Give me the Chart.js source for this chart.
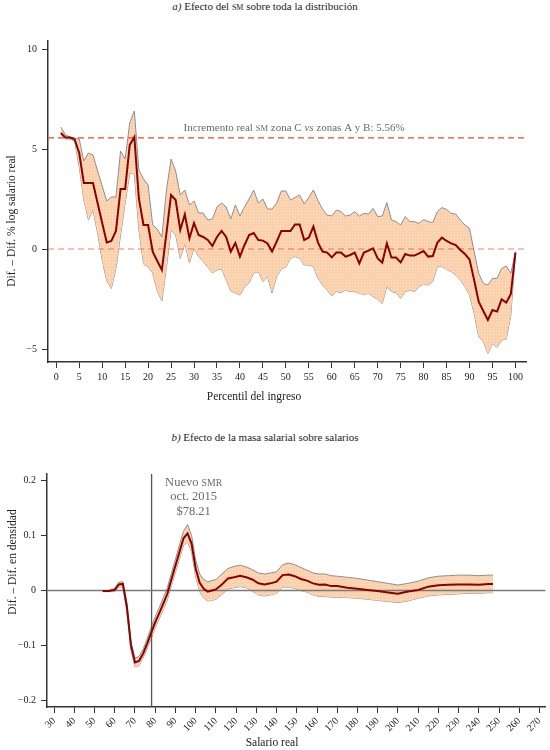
<!DOCTYPE html>
<html lang="es">
<head>
<meta charset="utf-8">
<title>Efecto del SM</title>
<script src="https://cdn.jsdelivr.net/npm/chart.js@4.4.1/dist/chart.umd.min.js"></script>
<style>
  body { margin: 0; background: #fff; width: 550px; height: 750px; position: relative; overflow: hidden; }
  .titulo { position: absolute; left: 0; width: 530px; text-align: center; font: 11px "Liberation Serif", serif; color: #222; line-height: 13px; }
  .sc { font-variant: small-caps; }
  canvas { position: absolute; left: 0; }
</style>
</head>
<body>
<div class="titulo" style="top:0px"><i>a)</i> Efecto del <span class="sc">sm</span> sobre toda la distribución</div>
<canvas id="graficoA" width="550" height="415" style="top:0px"></canvas>
<div class="titulo" style="top:431px"><i>b)</i> Efecto de la masa salarial sobre salarios</div>
<canvas id="graficoB" width="550" height="305" style="top:445px"></canvas>
<script>
// ---- Panel a) percentiles 1..100 ----
const percentiles = Array.from({ length: 100 }, (_, i) => i + 1);
const ticksPercentil = [0, 5, 10, 15, 20, 25, 30, 35, 40, 45, 50, 55, 60, 65, 70, 75, 80, 85, 90, 95, 100];
const ticksDifA = [-5, 0, 5, 10];
const incrementoReal = 5.56;

const difEstimada = [
  5.8, 5.57, 5.57, 5.48, 4.8, 3.3, 3.3, 3.3, 2.3, 1.3,
  0.33, 0.4, 0.9, 3.0, 3.0, 5.2, 5.6, 2.5, 1.2, 1.2,
  -0.13, -0.6, -1.05, 0.8, 2.7, 2.45, 0.95, 1.73, 0.53, 1.3,
  0.7, 0.6, 0.45, 0.15, 0.6, 0.9, 0.6, -0.13, 0.3, -0.38,
  0.2, 0.7, 0.8, 0.45, 0.42, 0.28, -0.13, 0.37, 0.9, 0.9,
  0.9, 1.23, 1.23, 0.45, 0.57, 1.12, 0.32, -0.13, -0.18, -0.42,
  -0.18, -0.18, -0.38, -0.3, -0.18, -0.72, -0.18, -0.08, 0.03, -0.47,
  -0.68, 0.28, -0.43, -0.43, -0.67, -0.25, -0.33, -0.33, -0.22, -0.1,
  -0.38, -0.35, 0.32, 0.57, 0.4, 0.28, 0.2, -0.05, -0.25, -0.52,
  -1.55, -2.63, -3.1, -3.55, -3.05, -3.13, -2.52, -2.68, -2.25, -0.18
];
const difSuperior = [
  6.1, 5.7, 5.6, 5.55, 5.5, 4.4, 4.8, 4.7, 3.9, 3.15,
  2.4, 2.6, 2.6, 4.9, 4.5, 6.3, 6.9, 3.95, 3.5, 3.2,
  1.2, 1.0, 0.6, 2.95, 4.5, 3.9, 2.7, 2.95, 2.2, 2.4,
  1.8, 1.8, 1.45, 1.5, 2.1, 2.3, 2.1, 1.5, 2.2, 1.65,
  2.1, 2.5, 2.95, 2.3, 2.5, 2.0, 2.0, 2.3, 2.9, 2.9,
  2.45, 2.58, 2.7, 2.25, 2.58, 2.95, 2.42, 1.98, 1.7, 1.65,
  1.95, 1.87, 1.65, 1.7, 1.87, 1.65, 1.78, 1.75, 2.03, 1.62,
  1.65, 2.32, 1.45, 1.37, 1.2, 1.62, 1.37, 1.37, 1.28, 1.48,
  1.37, 1.32, 1.87, 2.07, 1.98, 1.78, 1.75, 1.45, 1.2, 1.03,
  -0.13, -1.22, -1.72, -1.8, -1.47, -1.47, -0.97, -0.85, -1.22, -0.13
];
const difInferior = [
  5.7, 5.5, 5.5, 5.4, 4.1, 2.45, 1.45, 1.95, 0.8, -0.55,
  -1.6, -1.97, -0.97, 0.7, 2.3, 3.8, 3.75, 0.95, -0.75, -0.9,
  -1.2, -2.1, -2.6, -0.9, 0.95, 0.7, -0.47, 0.28, -0.68, 0.03,
  -0.38, -0.63, -0.9, -1.2, -1.05, -1.0, -1.55, -2.1, -2.2, -2.3,
  -1.9, -1.7, -1.2, -1.13, -1.63, -1.38, -2.2, -1.38, -1.0, -0.9,
  -0.47, -0.38, -0.47, -0.8, -0.8, -0.88, -1.47, -1.8, -2.05, -2.35,
  -2.13, -2.18, -2.05, -2.13, -2.13, -2.22, -2.27, -2.22, -2.38, -2.52,
  -2.72, -1.88, -2.13, -2.18, -2.47, -2.13, -2.05, -2.13, -1.88, -1.75,
  -1.8, -1.63, -0.88, -0.88, -1.02, -1.13, -1.3, -1.55, -1.88, -2.3,
  -3.22, -4.38, -4.63, -5.22, -4.72, -4.92, -4.55, -4.52, -3.3, -0.18
];

// ---- Panel b) salario real ----
const salarioReal = [
  54, 57, 60, 62, 64, 66, 68, 70, 72, 74, 76, 78, 80, 82, 84, 86, 88, 90, 92, 94,
  96, 98, 100, 102, 104, 106, 108, 110, 113, 116, 119, 122, 125, 128, 131, 134, 137, 140, 143, 146,
  149, 152, 155, 158, 161, 164, 167, 170, 175, 180, 185, 190, 195, 200, 205, 210, 215, 220, 225, 230,
  235, 240, 245, 247
];
const densidadEstimada = [
  -0.001, -0.001, 0.001, 0.011, 0.012, -0.03, -0.1, -0.131, -0.128, -0.115, -0.097, -0.077, -0.058, -0.041, -0.024, -0.006, 0.02, 0.045, 0.07, 0.095,
  0.104, 0.085, 0.04, 0.014, 0.003, -0.002, 0.0, 0.002, 0.011, 0.022, 0.024, 0.027, 0.024, 0.02, 0.013, 0.011, 0.013, 0.016, 0.028, 0.029,
  0.026, 0.021, 0.018, 0.013, 0.0105, 0.011, 0.008, 0.008, 0.005, 0.003, 0.001, -0.001, -0.0035, -0.006, -0.002, 0.001, 0.007, 0.0095, 0.0105, 0.011,
  0.011, 0.0105, 0.012, 0.012
];
const densidadSuperior = [
  0.0, 0.0, 0.004, 0.015, 0.016, -0.022, -0.092, -0.123, -0.12, -0.107, -0.088, -0.067, -0.048, -0.031, -0.013, 0.005, 0.031, 0.057, 0.083, 0.108,
  0.12, 0.1, 0.055, 0.03, 0.02, 0.016, 0.018, 0.02, 0.03, 0.04, 0.044, 0.046, 0.043, 0.038, 0.032, 0.03, 0.032, 0.034, 0.047, 0.05,
  0.047, 0.042, 0.037, 0.032, 0.03, 0.03, 0.027, 0.026, 0.024, 0.022, 0.019, 0.016, 0.013, 0.01, 0.013, 0.017, 0.023, 0.026, 0.027, 0.028,
  0.028, 0.027, 0.028, 0.028
];
const densidadInferior = [
  -0.002, -0.002, -0.002, 0.006, 0.007, -0.038, -0.108, -0.139, -0.137, -0.123, -0.106, -0.087, -0.068, -0.051, -0.035, -0.017, 0.009, 0.033, 0.057, 0.082,
  0.088, 0.07, 0.025, -0.002, -0.014, -0.019, -0.018, -0.016, -0.007, 0.003, 0.005, 0.007, 0.005, -0.001, -0.008, -0.01, -0.008, -0.005, 0.006, 0.006,
  0.004, 0.0, -0.003, -0.008, -0.011, -0.011, -0.012, -0.012, -0.013, -0.014, -0.016, -0.018, -0.02, -0.022, -0.019, -0.014, -0.01, -0.008, -0.007, -0.006,
  -0.005, -0.005, -0.004, -0.004
];
const ticksSalario = [30, 40, 50, 60, 70, 80, 90, 100, 110, 120, 130, 140, 150, 160, 170, 180, 190, 200, 210, 220, 230, 240, 250, 260, 270];
const ticksDifB = [-0.2, -0.1, 0, 0.1, 0.2];
const nuevoSmr = 78.21;

// estilos comunes
const FUENTE = '"Liberation Serif", "Times New Roman", serif';
const ROJO_OSCURO = '#8b0000';
const GRIS_BANDA = '#8e8e8e';
const EJE = '#333';

// textura punteada de la banda de confianza
function texturaBanda() {
  const c = document.createElement('canvas');
  c.width = 3; c.height = 3;
  const g = c.getContext('2d');
  g.fillStyle = '#fcd0ab';
  g.fillRect(0, 0, 3, 3);
  g.fillStyle = '#fee7d4';
  g.fillRect(1, 1, 1, 1);
  return g.createPattern(c, 'repeat');
}

const aPuntos = (xs, ys) => xs.map((x, i) => ({ x: x, y: ys[i] }));
const conMenos = v => String(v).replace('-', '\u2212');

// Plugin para dibujar textos con tramos de distinto estilo (versalitas, cursiva)
const rotulosPlugin = {
  id: 'rotulos',
  afterDraw(chart, args, opts) {
    const ctx = chart.ctx;
    (opts.items || []).forEach(item => {
      const [x, y] = item.pos(chart);
      const tam = item.tam || 11;
      ctx.save();
      ctx.translate(x, y);
      if (item.rot) ctx.rotate(item.rot);
      ctx.fillStyle = item.color || '#222';
      ctx.textBaseline = 'middle';
      ctx.textAlign = 'left';
      const fuentes = item.partes.map(p => {
        const t = p.sc ? tam * 0.78 : tam;
        return (p.it ? 'italic ' : '') + t + 'px ' + FUENTE;
      });
      let total = 0;
      const anchos = item.partes.map((p, i) => {
        ctx.font = fuentes[i];
        const w = ctx.measureText(p.t).width;
        total += w;
        return w;
      });
      let cx = -total / 2;
      item.partes.forEach((p, i) => {
        ctx.font = fuentes[i];
        ctx.fillText(p.t, cx, p.sc ? 0.8 : 0);
        cx += anchos[i];
      });
      ctx.restore();
    });
  }
};

function ejeBase(extra) {
  return Object.assign({
    type: 'linear',
    border: { display: true, color: EJE, width: 1.5 },
    grid: { display: true, drawOnChartArea: false, drawTicks: true, tickLength: 6, color: EJE, tickWidth: 1 },
  }, extra);
}

// ---------------- Gráfico a) ----------------
function crearGraficoA() {
  const ctx = document.getElementById('graficoA').getContext('2d');
  const xMin = -1.8, xMax = 102.3;
  return new Chart(ctx, {
    type: 'line',
    data: {
      datasets: [
        { data: aPuntos(percentiles, difEstimada), borderColor: ROJO_OSCURO, borderWidth: 2, fill: false },
        { data: [{ x: xMin, y: incrementoReal }, { x: xMax, y: incrementoReal }], borderColor: '#ec4a2a', borderWidth: 1.2, borderDash: [6, 4], fill: false },
        { data: [{ x: xMin, y: 0 }, { x: xMax, y: 0 }], borderColor: 'rgba(232,88,70,0.75)', borderWidth: 1.2, borderDash: [6, 4], fill: false },
        { data: aPuntos(percentiles, difSuperior), borderColor: GRIS_BANDA, borderWidth: 1, fill: '+1', backgroundColor: texturaBanda() },
        { data: aPuntos(percentiles, difInferior), borderColor: GRIS_BANDA, borderWidth: 1, fill: false }
      ]
    },
    options: {
      responsive: false,
      animation: false,
      layout: { padding: { left: 0, top: 41, right: 24, bottom: 0 } },
      elements: { point: { radius: 0 }, line: { tension: 0 } },
      plugins: {
        legend: { display: false },
        tooltip: { enabled: false },
        rotulos: {
          items: [
            { pos: c => [12, 221], rot: -Math.PI / 2, tam: 11.5, partes: [{ t: 'Dif. \u2013 Dif. % log salario real' }] },
            { pos: c => [254, 397], tam: 11.5, partes: [{ t: 'Percentil del ingreso' }] },
            {
              pos: c => [c.scales.x.getPixelForValue(51.8), c.scales.y.getPixelForValue(incrementoReal) - 10],
              tam: 11, color: '#6a6a6a',
              partes: [{ t: 'Incremento real ' }, { t: 'SM', sc: true }, { t: ' zona C ' }, { t: 'vs', it: true }, { t: ' zonas A y B: 5.56%' }]
            }
          ]
        }
      },
      scales: {
        x: ejeBase({
          min: xMin, max: xMax,
          afterBuildTicks: s => { s.ticks = ticksPercentil.map(v => ({ value: v })); },
          afterFit: s => { s.height = 53; },
          ticks: { autoSkip: false, maxRotation: 0, padding: 3, color: '#222', font: { family: FUENTE, size: 10 } }
        }),
        y: ejeBase({
          min: -5.65, max: 10.4,
          afterBuildTicks: s => { s.ticks = ticksDifA.map(v => ({ value: v })); },
          afterFit: s => { s.width = 48; },
          ticks: { padding: 5, color: '#222', font: { family: FUENTE, size: 10 }, callback: conMenos }
        })
      }
    },
    plugins: [rotulosPlugin]
  });
}

// ---------------- Gráfico b) ----------------
function crearGraficoB() {
  const ctx = document.getElementById('graficoB').getContext('2d');
  const xMin = 26.5, xMax = 273, yMin = -0.212, yMax = 0.212;
  return new Chart(ctx, {
    type: 'line',
    data: {
      datasets: [
        { data: aPuntos(salarioReal, densidadEstimada), borderColor: ROJO_OSCURO, borderWidth: 2, fill: false },
        { data: [{ x: xMin, y: 0 }, { x: xMax, y: 0 }], borderColor: '#7a7a7a', borderWidth: 1.5, fill: false },
        { data: [{ x: nuevoSmr, y: yMin }, { x: nuevoSmr, y: yMax }], borderColor: '#555', borderWidth: 1.3, fill: false },
        { data: aPuntos(salarioReal, densidadSuperior), borderColor: GRIS_BANDA, borderWidth: 1, fill: '+1', backgroundColor: texturaBanda() },
        { data: aPuntos(salarioReal, densidadInferior), borderColor: GRIS_BANDA, borderWidth: 1, fill: false }
      ]
    },
    options: {
      responsive: false,
      animation: false,
      layout: { padding: { left: 0, top: 29, right: 2, bottom: 0 } },
      elements: { point: { radius: 0 }, line: { tension: 0 } },
      plugins: {
        legend: { display: false },
        tooltip: { enabled: false },
        rotulos: {
          items: [
            { pos: c => [13, 117], rot: -Math.PI / 2, tam: 11.5, partes: [{ t: 'Dif. \u2013 Dif. en densidad' }] },
            { pos: c => [272, 298], tam: 11.5, partes: [{ t: 'Salario real' }] },
            { pos: c => [c.scales.x.getPixelForValue(99), c.scales.y.getPixelForValue(0.1956)], tam: 12.5, color: '#6a6a6a', partes: [{ t: 'Nuevo ' }, { t: 'SMR', sc: true }] },
            { pos: c => [c.scales.x.getPixelForValue(99), c.scales.y.getPixelForValue(0.1702)], tam: 12.5, color: '#6a6a6a', partes: [{ t: 'oct. 2015' }] },
            { pos: c => [c.scales.x.getPixelForValue(99), c.scales.y.getPixelForValue(0.1429)], tam: 12.5, color: '#6a6a6a', partes: [{ t: '$78.21' }] }
          ]
        }
      },
      scales: {
        x: ejeBase({
          min: xMin, max: xMax,
          afterBuildTicks: s => { s.ticks = ticksSalario.map(v => ({ value: v })); },
          afterFit: s => { s.height = 43; },
          ticks: { autoSkip: false, minRotation: 45, maxRotation: 45, padding: 2, color: '#222', font: { family: FUENTE, size: 10 } }
        }),
        y: ejeBase({
          min: yMin, max: yMax,
          afterBuildTicks: s => { s.ticks = ticksDifB.map(v => ({ value: v })); },
          afterFit: s => { s.width = 47; },
          ticks: { padding: 5, color: '#222', font: { family: FUENTE, size: 10 }, callback: conMenos }
        })
      }
    },
    plugins: [rotulosPlugin]
  });
}

crearGraficoA();
crearGraficoB();
</script>
</body>
</html>
